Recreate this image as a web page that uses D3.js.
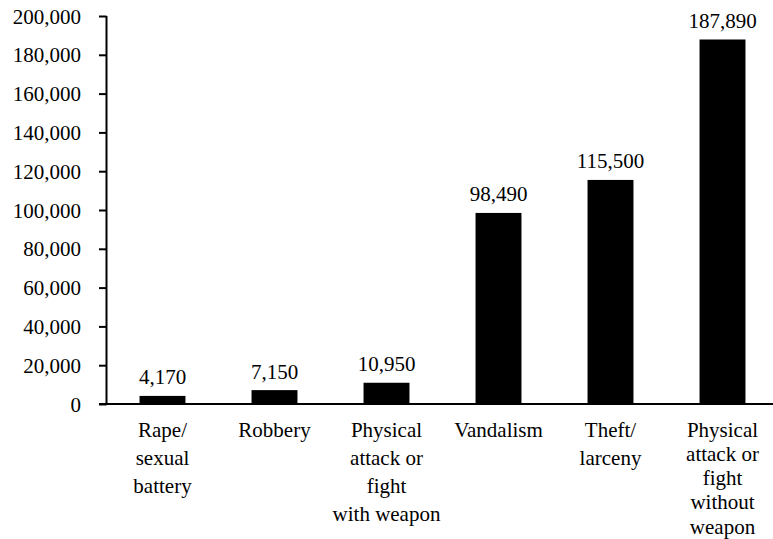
<!DOCTYPE html>
<html>
<head>
<meta charset="utf-8">
<script src="https://cdn.jsdelivr.net/npm/d3@7"></script>
<style>
  html, body { margin: 0; padding: 0; background: #fff; }
  svg { display: block; }
  text { font-family: "Liberation Serif", "Times New Roman", serif; fill: #000; }
</style>
</head>
<body>
<svg id="chart" width="773" height="539"></svg>
<script>
const categories = [
  "Rape/ sexual battery",
  "Robbery",
  "Physical attack or fight with weapon",
  "Vandalism",
  "Theft/ larceny",
  "Physical attack or fight without weapon"
];
const categoryLines = [
  ["Rape/", "sexual", "battery"],
  ["Robbery"],
  ["Physical", "attack or", "fight", "with weapon"],
  ["Vandalism"],
  ["Theft/", "larceny"],
  ["Physical", "attack or", "fight", "without", "weapon"]
];
const values = [4170, 7150, 10950, 98490, 115500, 187890];
const yTicks = [0, 20000, 40000, 60000, 80000, 100000, 120000, 140000, 160000, 180000, 200000];

const W = 773, H = 539;
const svg = d3.select("#chart");
const x0 = 106.5, yBase = 404, yTop = 16;

const x = d3.scaleBand()
  .domain(categories)
  .range([x0, x0 + 672])
  .paddingInner(0.59)
  .paddingOuter(0.295);

const y = d3.scaleLinear().domain([0, 200000]).range([yBase, yTop]);
const fmt = d3.format(",");

// bars
svg.append("g").selectAll("rect")
  .data(values)
  .join("rect")
  .attr("x", (d, i) => x(categories[i]))
  .attr("width", x.bandwidth())
  .attr("y", d => y(d))
  .attr("height", d => y(0) - y(d))
  .attr("fill", "#000");

// value labels
svg.append("g").selectAll("text")
  .data(values)
  .join("text")
  .attr("x", (d, i) => x(categories[i]) + x.bandwidth() / 2)
  .attr("y", d => y(d) - 11.5)
  .attr("text-anchor", "middle")
  .style("font-size", "21px")
  .text(d => fmt(d));

// y axis
const yAxis = d3.axisLeft(y)
  .tickValues(yTicks)
  .tickFormat(fmt)
  .tickSizeOuter(0)
  .tickSizeInner(7.5)
  .tickPadding(18);
const gy = svg.append("g").attr("transform", `translate(${x0},0)`).call(yAxis);
gy.selectAll("path, line").attr("stroke", "#000").attr("stroke-width", 2);
gy.select(".domain").attr("d", `M0,${yTop}V${yBase}`);
gy.selectAll("text")
  .style("font-family", "'Liberation Serif', 'Times New Roman', serif")
  .style("font-size", "21px")
  .attr("fill", "#000")
  .attr("dy", "0.34em");

// x baseline
svg.append("line")
  .attr("x1", x0 - 7.5).attr("x2", W)
  .attr("y1", y(0)).attr("y2", y(0))
  .attr("stroke", "#000").attr("stroke-width", 2);

// category labels
const lab = svg.append("g").selectAll("text")
  .data(categories)
  .join("text")
  .attr("text-anchor", "middle")
  .style("font-size", "21px")
  .attr("transform", d => `translate(${x(d) + x.bandwidth() / 2},${yBase + 32.5})`);
lab.each(function(d, i) {
  const lh = categoryLines[i].length > 4 ? 24.3 : 28.3;
  d3.select(this).selectAll("tspan")
    .data(categoryLines[i])
    .join("tspan")
    .attr("x", 0)
    .attr("y", (t, j) => j * lh)
    .text(t => t);
});
</script>
</body>
</html>
